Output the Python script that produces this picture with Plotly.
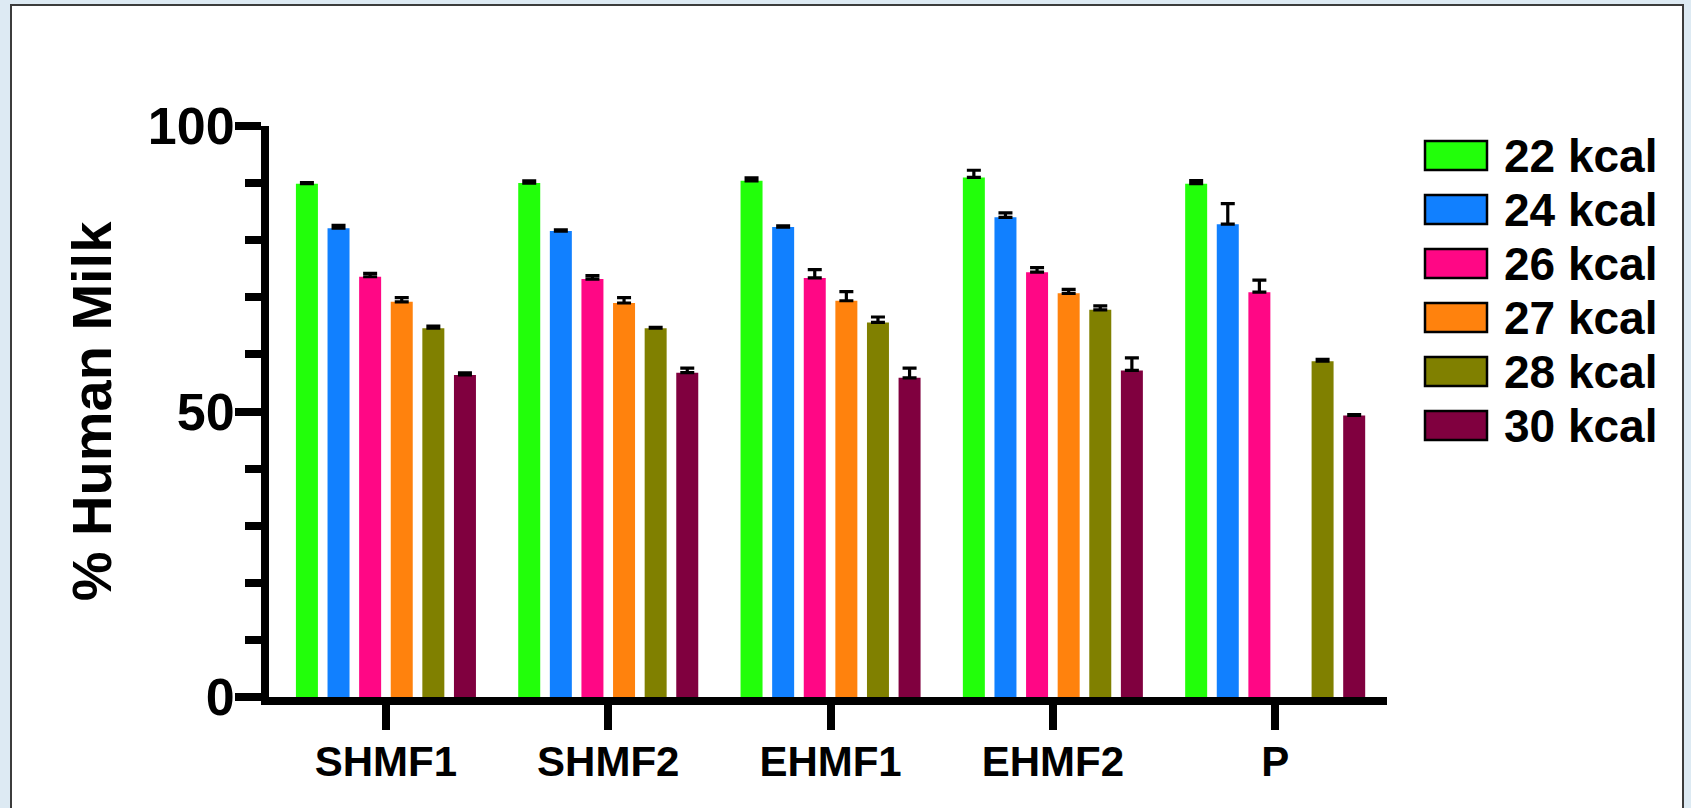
import plotly.graph_objects as go

# ---------------- data ----------------
categories = ["SHMF1", "SHMF2", "EHMF1", "EHMF2", "P"]
series_names = ["22 kcal", "24 kcal", "26 kcal", "27 kcal", "28 kcal", "30 kcal"]

v22 = [89.9, 90.0, 90.4, 91.0, 89.9]
e22 = [0.2, 0.4, 0.5, 1.25, 0.55]
v24 = [82.1, 81.6, 82.3, 84.0, 82.8]
e24 = [0.5, 0.2, 0.2, 0.8, 3.6]
v26 = [73.6, 73.2, 73.4, 74.4, 70.9]
e26 = [0.6, 0.6, 1.45, 0.8, 2.1]
v27 = [69.2, 69.0, 69.4, 70.7, None]
e27 = [0.75, 0.95, 1.6, 0.7, None]
v28 = [64.6, 64.6, 65.6, 67.8, 58.8]
e28 = [0.35, 0.15, 0.95, 0.7, 0.35]
v30 = [56.4, 56.8, 55.9, 57.2, 49.3]
e30 = [0.35, 0.8, 1.7, 2.2, 0.15]

y_ticks = [0, 50, 100]
y_title = "% Human Milk"

values = [v22, v24, v26, v27, v28, v30]
errors = [e22, e24, e26, e27, e28, e30]
colors = ["#22FF0A", "#1180FF", "#FF0785", "#FF820D", "#808000", "#80003F"]

# ---------------- layout geometry (pixels) ----------------
W, H = 1691, 808
L, R, T, B = 269, 1691 - 1387, 126, 808 - 697
PW, PH = W - L - R, H - T - B
FONT = "Liberation Sans, Arial, Helvetica, sans-serif"


def px_x(px):
    return (px - L) / PW


def px_y(py):
    return (H - B - py) / PH


fig = go.Figure()
for name, vals, errs, col in zip(series_names, values, errors, colors):
    fig.add_trace(go.Bar(
        name=name, x=categories, y=vals, marker=dict(color=col, line=dict(width=0)),
        error_y=dict(type="data", symmetric=False, array=errs,
                     arrayminus=[0] * len(errs), color="black", thickness=3.2, width=7),
        showlegend=False,
    ))

# legend drawn as boxes + labels
shapes = []
annotations = []
for i, (name, col) in enumerate(zip(series_names, colors)):
    top = 141 + 54 * i
    shapes.append(dict(type="rect", xref="paper", yref="paper",
                       x0=px_x(1425), x1=px_x(1487), y0=px_y(top + 29), y1=px_y(top),
                       fillcolor=col, line=dict(color="black", width=2.5)))
    annotations.append(dict(xref="paper", yref="paper", x=px_x(1502), y=px_y(top + 15),
                            xanchor="left", yanchor="middle", showarrow=False, text=name,
                            font=dict(family=FONT, size=46, color="black", weight="bold")))

# window frame
shapes.insert(0, dict(type="rect", xref="paper", yref="paper", layer="below",
                      x0=px_x(11), x1=px_x(1683), y0=px_y(840), y1=px_y(5),
                      fillcolor="white", line=dict(color="#3c3c3c", width=2)))

fig.update_layout(
    width=W, height=H,
    margin=dict(l=L, r=R, t=T, b=B, autoexpand=False),
    paper_bgcolor="#DDEAF3", plot_bgcolor="white",
    barmode="group", bargap=0.147, bargroupgap=0.304,
    shapes=shapes, annotations=annotations,
    xaxis=dict(
        range=[-0.526, 4.503], showline=True, linecolor="black", linewidth=8,
        ticks="outside", ticklen=25, tickwidth=8, tickcolor="black",
        showgrid=False, zeroline=False,
        tickfont=dict(family=FONT, size=42, color="black", weight="bold"),
        ticklabelstandoff=-4,
    ),
    yaxis=dict(
        range=[0, 100], showline=True, linecolor="black", linewidth=8,
        tickvals=y_ticks, ticks="outside", ticklen=26, tickwidth=8, tickcolor="black",
        minor=dict(dtick=10, ticks="outside", ticklen=16, tickwidth=8, tickcolor="black",
                   showgrid=False),
        showgrid=False, zeroline=False,
        tickfont=dict(family=FONT, size=52, color="black", weight="bold"),
        ticklabelstandoff=-10,
        title=dict(text=y_title, standoff=21,
                   font=dict(family=FONT, size=56, color="black", weight="bold")),
    ),
)

fig.write_html("out.html")
